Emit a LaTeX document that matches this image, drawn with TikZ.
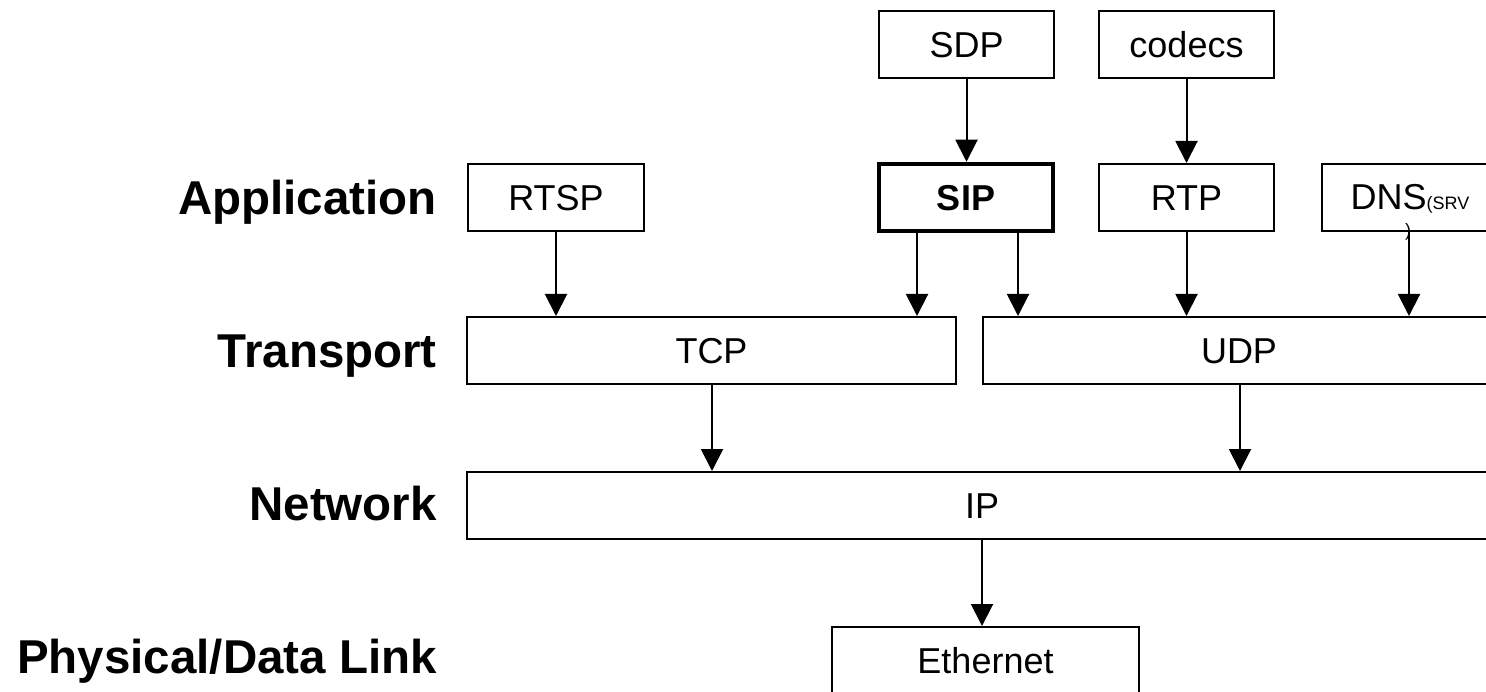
\documentclass[tikz,border=0pt]{standalone}
\usepackage{fontspec}
\setmainfont{Liberation Sans}
\usetikzlibrary{arrows.meta}
\begin{document}
\begin{tikzpicture}[x=1pt,y=-1pt,
  box/.style={draw, line width=2pt, inner sep=0pt, minimum height=67pt,
    text height=25.8pt, text depth=0pt, font=\fontsize{36}{43}\selectfont},
  layer/.style={anchor=base east, inner sep=0pt, font=\bfseries\fontsize{47.5}{57}\selectfont},
  arr/.style={line width=2pt, -{Triangle[width=22pt,length=22pt]}}]
\clip (0,0) rectangle (1486,692);
\fill[white] (0,0) rectangle (1486,692);
% layer labels
\node[layer] (lapp) at (437,215) {Application};
\node[layer] (ltra) at (437,368) {Transport};
\node[layer] (lnet) at (437,520) {Network};
\node[layer] (lphy) at (437,673) {Physical/Data Link};
% top row
\node[box, minimum width=175pt] (sdp) at (966.5,44.5) {SDP};
\node[box, minimum width=175pt] (codecs) at (1186.5,44.5) {codecs};
% application
\node[box, minimum width=176pt] (rtsp) at (556,197.5) {RTSP};
\node[box, minimum width=174pt, line width=4.5pt, font=\bfseries\fontsize{36}{43}\selectfont] (sip) at (966,197.5) {SIP};
\node[box, minimum width=175pt] (rtp) at (1186.5,197.5) {RTP};
\node[box, minimum width=176pt] (dns) at (1410,197.5) {};
\node[anchor=base, inner sep=0pt, font=\fontsize{36}{43}\selectfont] (dnstxt) at (1410,210) {DNS{\fontsize{18}{20}\selectfont(SRV}};
\node[anchor=base, inner sep=0pt, font=\fontsize{18}{20}\selectfont] (dnspar) at (1408,237) {)};
% transport
\node[box, minimum width=489pt] (tcp) at (711.5,350.5) {TCP};
\node[box, minimum width=512pt] (udp) at (1239,350.5) {UDP};
% network
\node[box, minimum width=1030pt] (ip) at (982,505.5) {IP};
% link
\node[box, minimum width=307pt] (eth) at (985.5,660.5) {Ethernet};
% arrows
\draw[arr] (sdp.south) -- (sdp.south |- sip.north);
\draw[arr] (codecs.south) -- (codecs.south |- rtp.north);
\draw[arr] (rtsp.south) -- (rtsp.south |- tcp.north);
\draw[arr] (917,0 |- sip.south) -- (917,0 |- tcp.north);
\draw[arr] (1018,0 |- sip.south) -- (1018,0 |- udp.north);
\draw[arr] (rtp.south) -- (rtp.south |- udp.north);
\draw[arr] (1409,0 |- dns.south) -- (1409,0 |- udp.north);
\draw[arr] (712,0 |- tcp.south) -- (712,0 |- ip.north);
\draw[arr] (1240,0 |- udp.south) -- (1240,0 |- ip.north);
\draw[arr] (982,0 |- ip.south) -- (982,0 |- eth.north);
\end{tikzpicture}
\end{document}
